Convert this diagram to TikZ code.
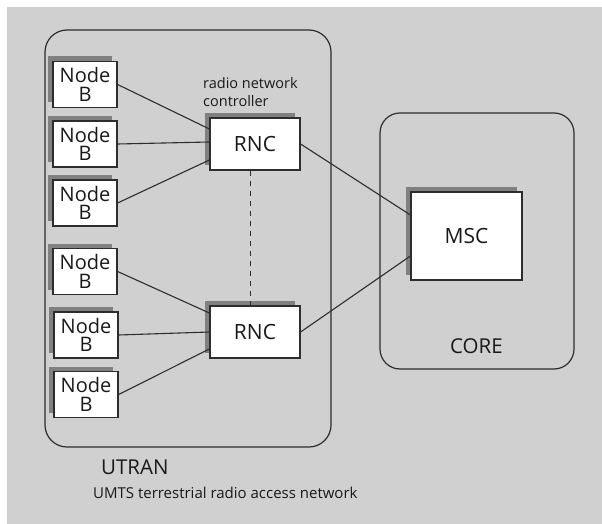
\documentclass[tikz,border=0pt]{standalone}
\usepackage{fontspec}
\setmainfont{Open Sans}
\usepackage{tikz}
\usetikzlibrary{shadows,positioning,calc}
\definecolor{BgGray}{RGB}{208,208,208}
\definecolor{ShadowGray}{RGB}{128,128,128}
\definecolor{EdgeGray}{RGB}{45,45,45}

\begin{document}
\begin{tikzpicture}[x=1pt,y=-1pt,
    box/.style={draw=EdgeGray,fill=white,line width=1.2pt,inner sep=0pt,
                align=center,font=\fontsize{20}{18.5}\selectfont,text=black!90,
                drop shadow={shadow xshift=-5pt,shadow yshift=5pt,
                             fill=ShadowGray,opacity=1}},
    nodeb/.style={box,minimum width=64pt,minimum height=46pt},
    rnc/.style={box,minimum width=90pt,minimum height=52pt,
                font=\fontsize{21}{21}\selectfont},
    area/.style={draw=EdgeGray,line width=1.2pt,rounded corners=22pt},
    link/.style={EdgeGray,line width=1.1pt},
    caption/.style={inner sep=0pt,anchor=west,text=black!90,
                    font=\fontsize{20.5}{20}\selectfont}]

    % background
    \useasboundingbox (0,0) rectangle (602,524);
    \fill[BgGray] (7,7) rectangle (602,524);

    % areas
    \draw[area] (45,30) rectangle (331,447);
    \draw[area,rounded corners=20pt] (380,113) rectangle (574,369);

    % Node B column
    \node[nodeb] (nb1) at (85,84.5)  {Node\\B};
    \node[nodeb] (nb2) at (85,144)   {Node\\B};
    \node[nodeb] (nb3) at (85,203)   {Node\\B};
    \node[nodeb] (nb4) at (85,271.5) {Node\\B};
    \node[nodeb] (nb5) at (86,335)   {Node\\B};
    \node[nodeb] (nb6) at (86,394.5) {Node\\B};

    % controllers
    \node[rnc] (rnc1) at (255,144) {RNC};
    \node[rnc] (rnc2) at (255,332) {RNC};
    \node[rnc,minimum width=111pt,minimum height=88pt] (msc) at (466.5,236) {MSC};

    \node[inner sep=0pt,anchor=north west,align=left,text=black!90,
          font=\fontsize{14.5}{18}\selectfont] (rnclbl) at (203,77)
          {radio network\\controller};

    % links
    \foreach \n/\dy in {1/15,2/2,3/-16}
      \draw[link] (nb\n.east) -- ([yshift=\dy pt]rnc1.west);
    \foreach \n/\dy in {4/19,5/0,6/-17}
      \draw[link] (nb\n.east) -- ([yshift=\dy pt]rnc2.west);
    \draw[link] (rnc1.east) -- ([yshift=21pt]msc.west);
    \draw[link] (rnc2.east) -- ([yshift=-20pt]msc.west);
    \draw[link,line width=0.9pt,dash pattern=on 5pt off 5pt]
      ([xshift=-5pt]rnc1.south) -- ([xshift=-5pt]rnc2.north);

    % captions
    \node[caption] (corelbl) at (450,346) {CORE};
    \node[caption] (utranlbl) at (101,467) {UTRAN};
    \node[caption,font=\fontsize{15}{15}\selectfont] (utrandesc) at (93,493)
      {UMTS terrestrial radio access network};
\end{tikzpicture}
\end{document}
